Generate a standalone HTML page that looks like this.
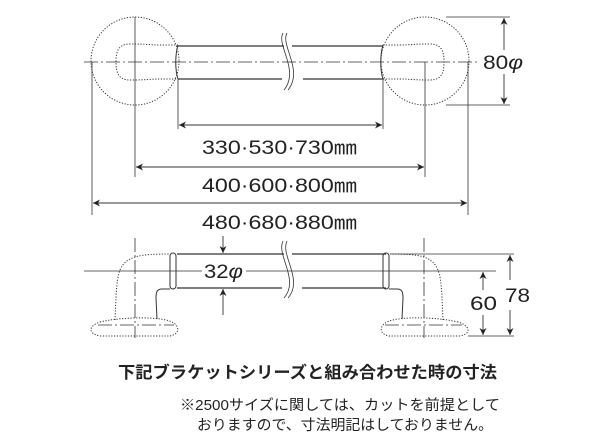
<!DOCTYPE html>
<html><head><meta charset="utf-8"><style>
html,body{margin:0;padding:0;background:#fff;}
svg{display:block;}
text{font-family:"Liberation Sans","Noto Sans CJK JP",sans-serif;fill:#222;}
</style></head><body>
<svg width="600" height="439" viewBox="0 0 600 439" xmlns="http://www.w3.org/2000/svg">
<defs>
<marker id="a" viewBox="0 0 10 10" refX="10" refY="5" markerWidth="11" markerHeight="7" orient="auto-start-reverse" markerUnits="userSpaceOnUse"><path d="M0,0 L10,5 L0,10 L3,5 z" fill="#222"/></marker>
</defs>
<g fill="none" stroke="#333">
<line x1="84" y1="62" x2="480" y2="62" stroke-width="0.8" stroke-dasharray="14,3,2,3"/>
<line x1="135" y1="17" x2="135" y2="177" stroke-width="0.8"/>
<line x1="425" y1="62" x2="425" y2="177" stroke-width="0.8"/>
<circle cx="135" cy="61" r="44" stroke-width="1" stroke-dasharray="1.2,1.6"/>
<circle cx="425" cy="61" r="44" stroke-width="1" stroke-dasharray="1.2,1.6"/>
<path d="M178,45 L160,45 C150,45 148,44 130,44 C118,44 116,52 116,62 C116,72 118,80 130,80 C148,80 150,79 160,79 L178,79" stroke-dasharray="1.2,1.6"/>
<path d="M383,45 L400,45 C410,45 412,44 430,44 C442,44 444,52 444,62 C444,72 442,80 430,80 C412,80 410,79 400,79 L383,79" stroke-dasharray="1.2,1.6"/>
<path d="M178,45 C175,55 175,70 178,79 M383,45 C380,55 380,70 383,79" stroke-width="1"/>
<line x1="178" y1="46" x2="284" y2="46" stroke-width="1.2"/>
<line x1="292" y1="46" x2="383" y2="46" stroke-width="1.2"/>
<line x1="178" y1="79" x2="282" y2="79" stroke-width="1.2"/>
<line x1="303" y1="79" x2="383" y2="79" stroke-width="1.2"/>
<path d="M283,33 C276,45 300,70 284,90 M287,33 C280,45 304,70 288,90" stroke-width="0.8"/>
<line x1="178" y1="79" x2="178" y2="129" stroke-width="0.8"/>
<line x1="383" y1="79" x2="383" y2="129" stroke-width="0.8"/>
<line x1="92" y1="62" x2="92" y2="215" stroke-width="0.8"/>
<line x1="468" y1="62" x2="468" y2="215" stroke-width="0.8"/>
<line x1="179" y1="125" x2="382" y2="125" stroke-width="0.9" marker-start="url(#a)" marker-end="url(#a)"/>
<line x1="136" y1="167" x2="424" y2="167" stroke-width="0.9" marker-start="url(#a)" marker-end="url(#a)"/>
<line x1="93" y1="203" x2="467" y2="203" stroke-width="0.9" marker-start="url(#a)" marker-end="url(#a)"/>
<line x1="446" y1="17" x2="510" y2="17" stroke-width="0.8"/>
<line x1="446" y1="105" x2="510" y2="105" stroke-width="0.8"/>
<line x1="504" y1="18" x2="504" y2="50" stroke-width="0.9" marker-start="url(#a)"/>
<line x1="504" y1="74" x2="504" y2="104" stroke-width="0.9" marker-end="url(#a)"/>

<line x1="84" y1="271" x2="496" y2="271" stroke-width="0.8"/>
<line x1="135" y1="238" x2="135" y2="338" stroke-width="0.8" stroke-dasharray="14,3,2,3"/>
<line x1="424" y1="238" x2="424" y2="338" stroke-width="0.8" stroke-dasharray="14,3,2,3"/>
<line x1="177" y1="254" x2="284" y2="254" stroke-width="1.2"/>
<line x1="292" y1="254" x2="386" y2="254" stroke-width="1.2"/>
<line x1="177" y1="288" x2="282" y2="288" stroke-width="1.2"/>
<line x1="302" y1="288" x2="386" y2="288" stroke-width="1.2"/>
<path d="M283,241 C276,255 300,280 284,298 M287,241 C280,255 304,280 288,298" stroke-width="0.8"/>
<path d="M115,320 C116,300 116,280 120,270 C126,256 140,254 170,254" stroke-dasharray="1.2,1.6"/>
<rect x="170" y="253" width="6" height="36" rx="3" stroke-width="1"/>
<path d="M170,289 L162,289 C157,289 156,292 156,298 L157,319" stroke-width="1"/>
<path d="M100,322 C120,317 160,316 172,322 C180,326 180,334 170,336 L100,336 C88,334 88,326 100,322 Z" stroke-dasharray="1.2,1.6"/>
<line x1="98" y1="325" x2="174" y2="325" stroke-width="0.8" stroke-dasharray="14,3,2,3"/>
<path d="M443,320 C442,300 442,280 438,270 C432,256 420,254 390,254" stroke-dasharray="1.2,1.6"/>
<rect x="383" y="253" width="6" height="36" rx="3" stroke-width="1"/>
<path d="M389,289 L397,289 C402,289 403,292 403,298 L402,319" stroke-width="1"/>
<path d="M458,322 C438,317 398,316 387,322 C379,326 379,334 389,336 L460,336 C471,334 471,326 458,322 Z" stroke-dasharray="1.2,1.6"/>
<line x1="385" y1="325" x2="462" y2="325" stroke-width="0.8" stroke-dasharray="14,3,2,3"/>
<line x1="223" y1="236" x2="223" y2="253" stroke-width="0.9" marker-end="url(#a)"/>
<line x1="223" y1="289" x2="223" y2="315" stroke-width="0.9" marker-start="url(#a)"/>
<line x1="390" y1="254" x2="514" y2="254" stroke-width="0.8"/>
<line x1="468" y1="336" x2="514" y2="336" stroke-width="0.8"/>
<line x1="483" y1="272" x2="483" y2="290" stroke-width="0.9" marker-start="url(#a)"/>
<line x1="483" y1="315" x2="483" y2="335" stroke-width="0.9" marker-end="url(#a)"/>
<line x1="510" y1="255" x2="510" y2="280" stroke-width="0.9" marker-start="url(#a)"/>
<line x1="510" y1="310" x2="510" y2="335" stroke-width="0.9" marker-end="url(#a)"/>
</g>
<rect x="202" y="261" width="44" height="20" fill="#fff"/>
<g font-size="19">
<text x="202" y="154" textLength="155" lengthAdjust="spacingAndGlyphs">330·530·730㎜</text>
<text x="202" y="192" textLength="155" lengthAdjust="spacingAndGlyphs">400·600·800㎜</text>
<text x="202" y="229" textLength="155" lengthAdjust="spacingAndGlyphs">480·680·880㎜</text>
<text x="483" y="69" textLength="40" lengthAdjust="spacingAndGlyphs">80<tspan font-style="italic">φ</tspan></text>
<text x="204" y="278" textLength="39" lengthAdjust="spacingAndGlyphs">32<tspan font-style="italic">φ</tspan></text>
<text x="470" y="310" textLength="27" lengthAdjust="spacingAndGlyphs">60</text>
<text x="505" y="302" textLength="25" lengthAdjust="spacingAndGlyphs">78</text>
</g>
<text x="118" y="378" font-size="16.5" font-weight="bold" textLength="379" lengthAdjust="spacingAndGlyphs">下記ブラケットシリーズと組み合わせた時の寸法</text>
<text x="180" y="410" font-size="14.5" textLength="320" lengthAdjust="spacingAndGlyphs">※2500サイズに関しては、カットを前提として</text>
<text x="197" y="430" font-size="14.5" textLength="296" lengthAdjust="spacingAndGlyphs">おりますので、寸法明記はしておりません。</text>
</svg>
</body></html>
